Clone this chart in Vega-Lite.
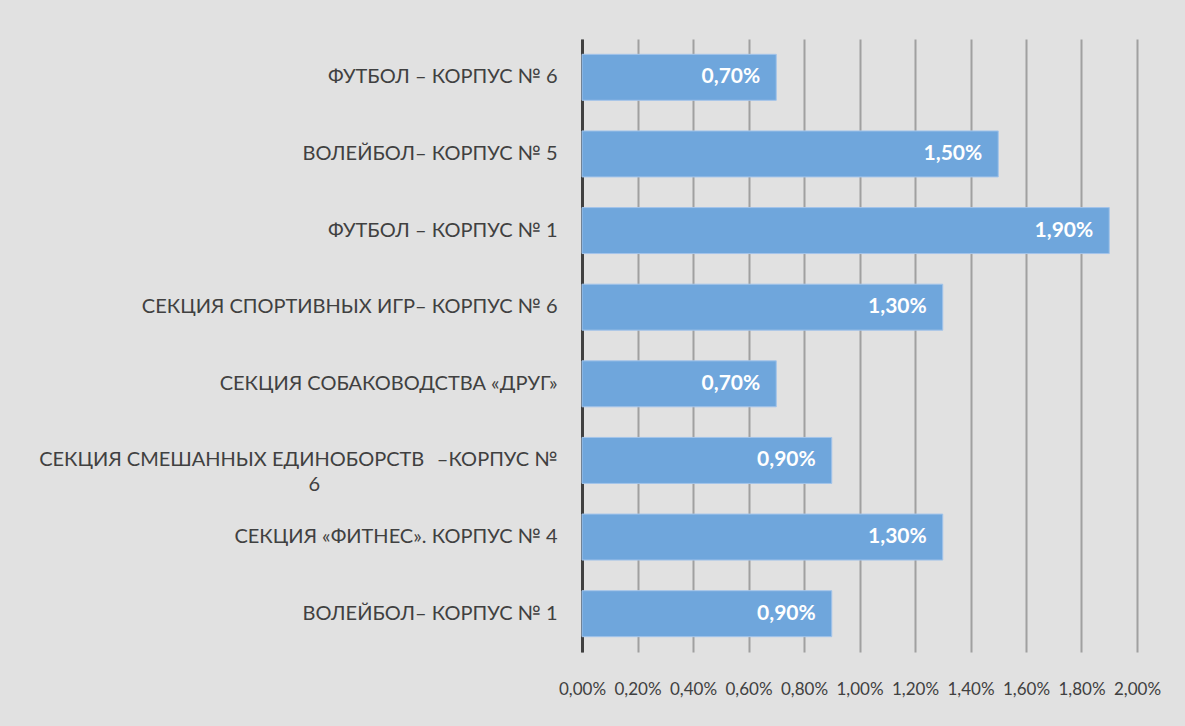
{
  "$schema": "https://vega.github.io/schema/vega-lite/v6.json",
  "width": 555,
  "height": 613,
  "autosize": {"type": "none"},
  "padding": {"left": 582, "top": 39, "right": 48, "bottom": 74},
  "background": "#e1e1e1",
  "config": {
    "view": {"stroke": null},
    "font": "Lato",
    "locale": {
      "number": {"decimal": ",", "thousands": " ", "grouping": [3], "currency": ["", " ₽"]}
    }
  },
  "data": {
    "values": [
      {"label": "ФУТБОЛ – КОРПУС № 6", "value": 0.007},
      {"label": "ВОЛЕЙБОЛ– КОРПУС № 5", "value": 0.015},
      {"label": "ФУТБОЛ – КОРПУС № 1", "value": 0.019},
      {"label": "СЕКЦИЯ СПОРТИВНЫХ ИГР– КОРПУС № 6", "value": 0.013},
      {"label": "СЕКЦИЯ СОБАКОВОДСТВА «ДРУГ»", "value": 0.007},
      {"label": "СЕКЦИЯ СМЕШАННЫХ ЕДИНОБОРСТВ  –КОРПУС № 6", "value": 0.009},
      {"label": "СЕКЦИЯ «ФИТНЕС». КОРПУС № 4", "value": 0.013},
      {"label": "ВОЛЕЙБОЛ– КОРПУС № 1", "value": 0.009}
    ]
  },
  "encoding": {
    "y": {
      "field": "label",
      "type": "nominal",
      "sort": null,
      "scale": {"paddingInner": 0.4, "paddingOuter": 0.2},
      "axis": {
        "title": null,
        "ticks": false,
        "domainColor": "#404040",
        "domainWidth": 3,
        "labelPadding": 25,
        "labelFontSize": 20,
        "labelColor": "#404040",
        "labelLimit": 600,
        "labelLineHeight": 25,
        "labelExpr": "datum.value == 'СЕКЦИЯ СМЕШАННЫХ ЕДИНОБОРСТВ  –КОРПУС № 6' ? ['СЕКЦИЯ СМЕШАННЫХ ЕДИНОБОРСТВ\u2002\u2009–КОРПУС №', '6\u2003\u2003\u2003\u2003\u2003\u2003\u2003\u2003\u2003\u2003\u2003\u2003\u2003\u2003\u2003\u2002\u2009\u200b'] : datum.value"
      }
    },
    "x": {
      "field": "value",
      "type": "quantitative",
      "scale": {"domain": [0, 0.02], "nice": false},
      "axis": {
        "title": null,
        "values": [0, 0.002, 0.004, 0.006, 0.008, 0.01, 0.012, 0.014, 0.016, 0.018, 0.02],
        "format": ".2%",
        "domain": false,
        "ticks": false,
        "grid": true,
        "gridColor": "#a0a0a0",
        "gridWidth": 2,
        "labelPadding": 29,
        "labelFontSize": 17,
        "labelColor": "#404040",
        "labelOverlap": false,
        "labelFlush": false
      }
    }
  },
  "layer": [
    {
      "mark": {"type": "bar", "color": "#6fa6dc", "stroke": "#a3c4ea", "strokeWidth": 1}
    },
    {
      "mark": {"type": "text", "align": "right", "dx": -16, "color": "white", "fontWeight": "bold", "fontSize": 21},
      "encoding": {
        "text": {"field": "value", "type": "quantitative", "format": ".2%"}
      }
    }
  ]
}
